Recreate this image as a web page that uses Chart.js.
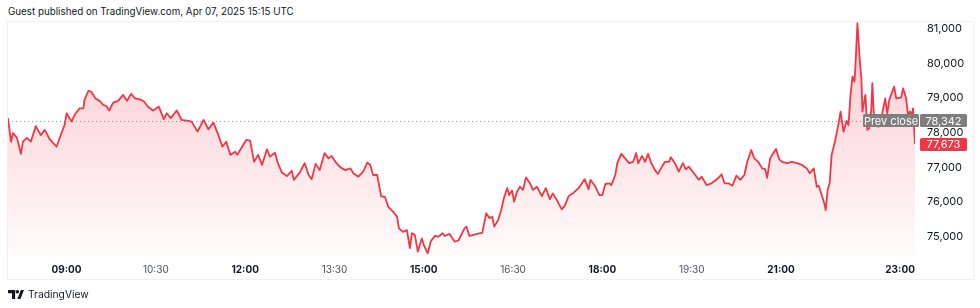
<!DOCTYPE html>
<html>
<head>
<meta charset="utf-8">
<title>Price chart</title>
<script src="https://cdn.jsdelivr.net/npm/chart.js@4.4.1/dist/chart.umd.min.js"></script>
<style>
  body { margin: 0; width: 980px; height: 308px; background: #fff; overflow: hidden; position: relative; font-family: Inter, "Noto Sans", sans-serif; }
  #header { position: absolute; left: 8px; top: 6px; font-size: 9.8px; color: #131722; white-space: nowrap; }
  #panel { position: absolute; left: 7px; top: 21px; width: 965px; height: 257px; border: 1px solid #eef0f3; }
  #chartBox { position: absolute; left: 0; top: 0; width: 980px; height: 308px; }
  #logo { position: absolute; left: 8px; top: 288px; font-size: 10.3px; color: #131722; display: flex; align-items: center; }
  #logo svg { margin-right: 4px; }
</style>
</head>
<body>
<div id="header">Guest published on TradingView.com, Apr 07, 2025 15:15 UTC</div>
<div id="panel"></div>
<div id="chartBox"><canvas id="myChart" width="980" height="308"></canvas></div>
<div id="logo">
  <svg width="16" height="9" viewBox="0 0 18 10"><path d="M0 0h8v10H4.5V3.5H0z" fill="#131722"/><circle cx="10.5" cy="2" r="2" fill="#131722"/><path d="M10.5 10 14.5 0H18l-4 10z" fill="#131722"/></svg>
  <span>TradingView</span>
</div>
<script>
'use strict';

// minutes since midnight (local chart time)
let times = [
  481, 484, 486, 490, 494, 496, 500, 504, 509, 514,
  518, 523, 530, 533, 538, 540, 545, 548, 553, 557,
  558, 562, 565, 569, 574, 577, 580, 583, 587, 592,
  597, 601, 605, 609, 614, 618, 622, 627, 633, 638,
  641, 645, 651, 656, 661, 666, 672, 678, 683, 688,
  693, 697, 701, 705, 710, 712, 716, 721, 725, 729,
  733, 737, 742, 745, 750, 753, 757, 762, 767, 769,
  775, 780, 784, 787, 791, 795, 800, 804, 807, 812,
  816, 821, 826, 829, 834, 839, 843, 846, 849, 853,
  857, 861, 864, 869, 873, 875, 879, 883, 886, 888,
  891, 894, 898, 900, 904, 907, 911, 915, 919, 921,
  926, 931, 935, 941, 943, 946, 950, 954, 959, 963,
  966, 969, 971, 975, 978, 981, 984, 986, 989, 991,
  994, 997, 1000, 1003, 1007, 1010, 1014, 1019, 1023, 1027,
  1030, 1034, 1039, 1042, 1046, 1051, 1056, 1062, 1066, 1068,
  1073, 1077, 1080, 1083, 1087, 1089, 1093, 1095, 1099, 1102,
  1107, 1111, 1114, 1116, 1120, 1123, 1126, 1129, 1133, 1136,
  1140, 1143, 1147, 1149, 1153, 1157, 1161, 1164, 1167, 1173,
  1177, 1180, 1185, 1190, 1196, 1200, 1203, 1207, 1211, 1215,
  1219, 1223, 1226, 1230, 1233, 1237, 1241, 1244, 1246, 1249,
  1251, 1255, 1258, 1261, 1266, 1271, 1276, 1281, 1286, 1289,
  1293, 1296, 1298, 1301, 1304, 1305, 1307, 1309, 1311, 1314,
  1316, 1318, 1320, 1323, 1326, 1328, 1330, 1332, 1334, 1335,
  1337, 1339, 1341, 1342, 1345, 1347, 1349, 1351, 1352, 1354,
  1358, 1362, 1365, 1367, 1369, 1372, 1374, 1376, 1381, 1383,
  1386, 1388, 1390, 1392, 1393, 1395
];

let prices = [
  78420, 77740, 77990, 77850, 77390, 77740, 77850, 77740, 78190, 77930,
  78080, 77810, 77600, 77840, 78220, 78560, 78320, 78510, 78700, 78700,
  78940, 79210, 79180, 78990, 78900, 78800, 78770, 78640, 78870, 78920,
  79090, 78920, 79120, 78990, 78960, 78900, 78750, 78640, 78750, 78390,
  78560, 78420, 78640, 78370, 78350, 78320, 78030, 78370, 78100, 78290,
  77930, 77600, 77740, 77360, 77450, 77360, 77550, 77790, 77770, 77160,
  77360, 77070, 77520, 77310, 77420, 77120, 76850, 76750, 76900, 76640,
  76850, 77120, 76780, 76660, 77100, 76920, 77410, 77260, 77330, 77120,
  77000, 76920, 76970, 76830, 76730, 76880, 77140, 77070, 76780, 76780,
  76170, 76140, 75870, 75720, 75580, 75240, 75140, 75190, 74670, 75100,
  75050, 74570, 74950, 74760, 74520, 74860, 75020, 75000, 75100, 75020,
  75080, 74860, 74890, 75240, 75290, 75020, 75050, 75080, 75120, 75680,
  75540, 75570, 75290, 75480, 75770, 76140, 76400, 76200, 76330, 76010,
  76300, 76440, 76350, 76710, 76540, 76350, 76440, 76170, 76400, 76080,
  76250, 76060, 75790, 75890, 76170, 76270, 76400, 76660, 76370, 76640,
  76440, 76200, 76200, 76520, 76540, 76490, 76780, 77120, 77390, 77290,
  77120, 77160, 77410, 77120, 77330, 77160, 77390, 77140, 76920, 76810,
  77020, 77160, 77160, 77290, 77120, 76880, 77120, 76940, 77020, 76800,
  76640, 76730, 76490, 76540, 76670, 76800, 76540, 76540, 76470, 76760,
  76640, 76780, 77160, 77500, 77260, 77160, 76970, 76950, 76700, 77260,
  77360, 77530, 77240, 77160, 77120, 77160, 77120, 77070, 76970, 76830,
  76970, 76440, 76470, 76200, 75920, 75770, 76350, 76540, 77360, 77700,
  77980, 78270, 78610, 78030, 78340, 78220, 79090, 79620, 79470, 79950,
  81160, 80240, 79520, 78610, 79090, 78080, 78130, 78700, 79430, 78220,
  78170, 78560, 78990, 78560, 78940, 79170, 79330, 78990, 79010, 79280,
  78990, 78510, 78610, 78510, 78700, 77673
];

let xTicks = [540, 630, 720, 810, 900, 990, 1080, 1170, 1260, 1380];
let xLabels = ['09:00', '10:30', '12:00', '13:30', '15:00', '16:30', '18:00', '19:30', '21:00', '23:00'];
let boldLabels = ['09:00', '12:00', '15:00', '18:00', '21:00', '23:00'];
let yTicks = [75000, 76000, 77000, 78000, 79000, 80000, 81000];

let prevClose = 78342;
let lastPrice = 77673;

const FONT = 'Inter, "Noto Sans", sans-serif';
const RED = '#f23645';

function fmt(v) {
  return v.toLocaleString('en-US');
}

function labelFor(value) {
  let i = xTicks.indexOf(value);
  return i >= 0 ? xLabels[i] : '';
}

function roundRect(ctx, x, y, w, h, r) {
  ctx.beginPath();
  ctx.moveTo(x + r, y);
  ctx.lineTo(x + w - r, y);
  ctx.quadraticCurveTo(x + w, y, x + w, y + r);
  ctx.lineTo(x + w, y + h - r);
  ctx.quadraticCurveTo(x + w, y + h, x + w - r, y + h);
  ctx.lineTo(x + r, y + h);
  ctx.quadraticCurveTo(x, y + h, x, y + h - r);
  ctx.lineTo(x, y + r);
  ctx.quadraticCurveTo(x, y, x + r, y);
  ctx.closePath();
}

function tag(ctx, text, x, yMid, w, color) {
  let h = 13;
  ctx.fillStyle = color;
  roundRect(ctx, x, Math.round(yMid - h / 2), w, h, 1.5);
  ctx.fill();
  ctx.fillStyle = '#ffffff';
  ctx.font = '11px ' + FONT;
  ctx.textAlign = 'center';
  ctx.textBaseline = 'middle';
  ctx.fillText(text, x + w / 2, yMid + 0.5);
}

// dotted previous close line, under the series
const prevCloseLine = {
  id: 'prevCloseLine',
  beforeDatasetsDraw(chart) {
    let ctx = chart.ctx;
    let y = Math.round(chart.scales.y.getPixelForValue(prevClose)) + 0.5;
    ctx.save();
    ctx.strokeStyle = '#9598a1';
    ctx.lineWidth = 1;
    ctx.setLineDash([1, 3]);
    ctx.beginPath();
    ctx.moveTo(chart.chartArea.left, y);
    ctx.lineTo(chart.chartArea.right, y);
    ctx.stroke();
    ctx.restore();
  }
};

// price labels on the right edge
const priceTags = {
  id: 'priceTags',
  afterDraw(chart) {
    let ctx = chart.ctx;
    let yScale = chart.scales.y;
    let yPrev = yScale.getPixelForValue(prevClose);
    let yLast = yScale.getPixelForValue(lastPrice);
    ctx.save();
    tag(ctx, 'Prev close', 863, yPrev, 56, '#7e7e7e');
    tag(ctx, fmt(prevClose), 920, yPrev, 47, '#7e7e7e');
    tag(ctx, fmt(lastPrice), 920, yLast, 47, RED);
    ctx.restore();
  }
};

let points = [];
for (let i = 0; i < times.length; i++) {
  points.push({ x: times[i], y: prices[i] });
}

const chartConfig = {
  type: 'line',
  data: {
    datasets: [{
      data: points,
      borderColor: RED,
      borderWidth: 1.8,
      borderJoinStyle: 'round',
      pointRadius: 0,
      tension: 0,
      fill: 'start',
      backgroundColor: function (c) {
        let area = c.chart.chartArea;
        if (!area) {
          return 'rgba(242,54,69,0.1)';
        }
        let g = c.chart.ctx.createLinearGradient(0, area.top, 0, area.bottom);
        g.addColorStop(0, 'rgba(242,54,69,0.28)');
        g.addColorStop(1, 'rgba(242,54,69,0.02)');
        return g;
      }
    }]
  },
  options: {
    responsive: false,
    devicePixelRatio: 1,
    animation: false,
    layout: { padding: { left: 8, top: 22, right: 0, bottom: 28 } },
    plugins: {
      legend: { display: false },
      tooltip: { enabled: false }
    },
    scales: {
      x: {
        type: 'linear',
        min: 481,
        max: 1395,
        grid: { display: false, drawTicks: false },
        border: { display: false },
        afterBuildTicks: function (scale) {
          scale.ticks = xTicks.map(v => ({ value: v }));
        },
        afterFit: function (scale) {
          scale.height = 24;
        },
        ticks: {
          autoSkip: false,
          maxRotation: 0,
          padding: 8,
          callback: function (value) {
            return labelFor(value);
          },
          font: function (c) {
            let bold = c.tick && boldLabels.includes(labelFor(c.tick.value));
            return { family: FONT, size: 10, weight: bold ? 'bold' : 'normal' };
          },
          color: function (c) {
            let bold = c.tick && boldLabels.includes(labelFor(c.tick.value));
            return bold ? '#131722' : '#50535e';
          }
        }
      },
      y: {
        position: 'right',
        min: 74443,
        max: 81193,
        grid: { display: false, drawTicks: false },
        border: { display: false },
        afterBuildTicks: function (scale) {
          scale.ticks = yTicks.map(v => ({ value: v }));
        },
        afterFit: function (scale) {
          scale.width = 65;
        },
        ticks: {
          padding: 12,
          color: '#131722',
          font: { family: FONT, size: 11 },
          callback: function (value) {
            return fmt(value);
          }
        }
      }
    }
  },
  plugins: [prevCloseLine, priceTags]
};

let canvasChart = document.getElementById('myChart').getContext('2d');
const myChart = new Chart(canvasChart, chartConfig);
</script>
</body>
</html>
